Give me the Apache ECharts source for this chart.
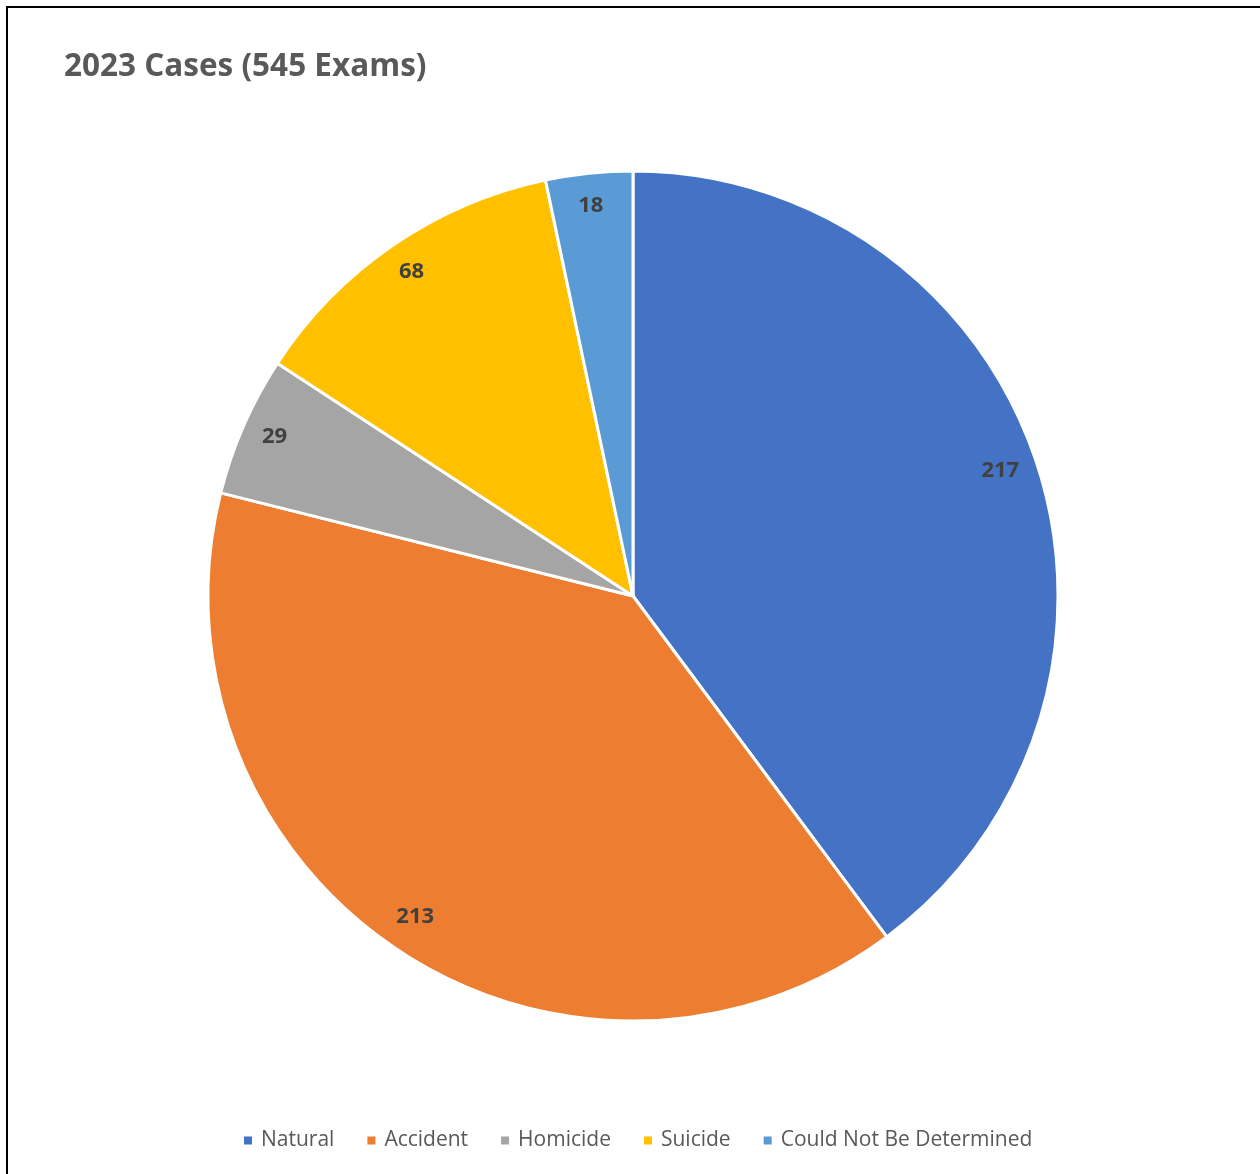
<!DOCTYPE html>
<html>
<head>
<meta charset="utf-8">
<script src="https://cdn.jsdelivr.net/npm/echarts@6/dist/echarts.min.js"></script>
<style>
  html, body { margin: 0; padding: 0; background: #ffffff; }
  #wrap { position: relative; width: 1260px; height: 1174px; overflow: hidden; }
  #chart { position: absolute; left: 0; top: 0; width: 1260px; height: 1174px; }
  #frame { position: absolute; left: 6px; top: 6px; width: 1300px; height: 1300px;
           border-top: 2px solid #000; border-left: 2px solid #000; pointer-events: none; }
</style>
</head>
<body>
<div id="wrap">
  <div id="chart"></div>
  <div id="frame"></div>
</div>
<script>
// Manner of death, 2023 cases
const categories = ['Natural', 'Accident', 'Homicide', 'Suicide', 'Could Not Be Determined'];
const caseCounts = [217, 213, 29, 68, 18];
const sliceColors = ['#4472C4', '#ED7D31', '#A5A5A5', '#FFC000', '#5B9BD5'];

const pieData = categories.map((name, i) => ({ name: name, value: caseCounts[i] }));

const chart = echarts.init(document.getElementById('chart'), null, { renderer: 'canvas' });

const center = [633, 596];
const outerR = 425;

chart.setOption({
  backgroundColor: '#ffffff',
  animation: false,
  color: sliceColors,
  title: {
    text: '2023 Cases (545 Exams)',
    left: 59,
    top: 46,
    textStyle: {
      fontFamily: 'Open Sans',
      fontWeight: 'bold',
      fontSize: 31.5,
      color: '#595959'
    }
  },
  legend: {
    data: categories,
    left: 237,
    top: 1125,
    icon: 'rect',
    itemWidth: 10,
    itemHeight: 10,
    itemGap: 31,
    textStyle: {
      fontFamily: 'Open Sans',
      fontSize: 21,
      color: '#595959',
      padding: [0, 0, 0, 3]
    }
  },
  series: [
    {
      // the slices themselves
      type: 'pie',
      center: center,
      radius: [0, outerR],
      startAngle: 90,
      clockwise: true,
      data: pieData,
      itemStyle: { borderColor: '#ffffff', borderWidth: 3 },
      label: { show: false },
      labelLine: { show: false },
      emphasis: { disabled: true }
    },
    {
      // outer ring carrying the value labels near the rim
      type: 'pie',
      center: center,
      radius: [347, outerR],
      startAngle: 90,
      clockwise: true,
      silent: true,
      data: pieData,
      itemStyle: { color: 'rgba(0,0,0,0)', borderWidth: 0 },
      label: {
        show: true,
        position: 'inside',
        formatter: '{c}',
        offset: [-2, -3],
        fontFamily: 'Open Sans',
        fontWeight: 'bold',
        fontSize: 22,
        color: '#404040'
      },
      labelLine: { show: false },
      emphasis: { disabled: true }
    }
  ]
});
</script>
</body>
</html>
